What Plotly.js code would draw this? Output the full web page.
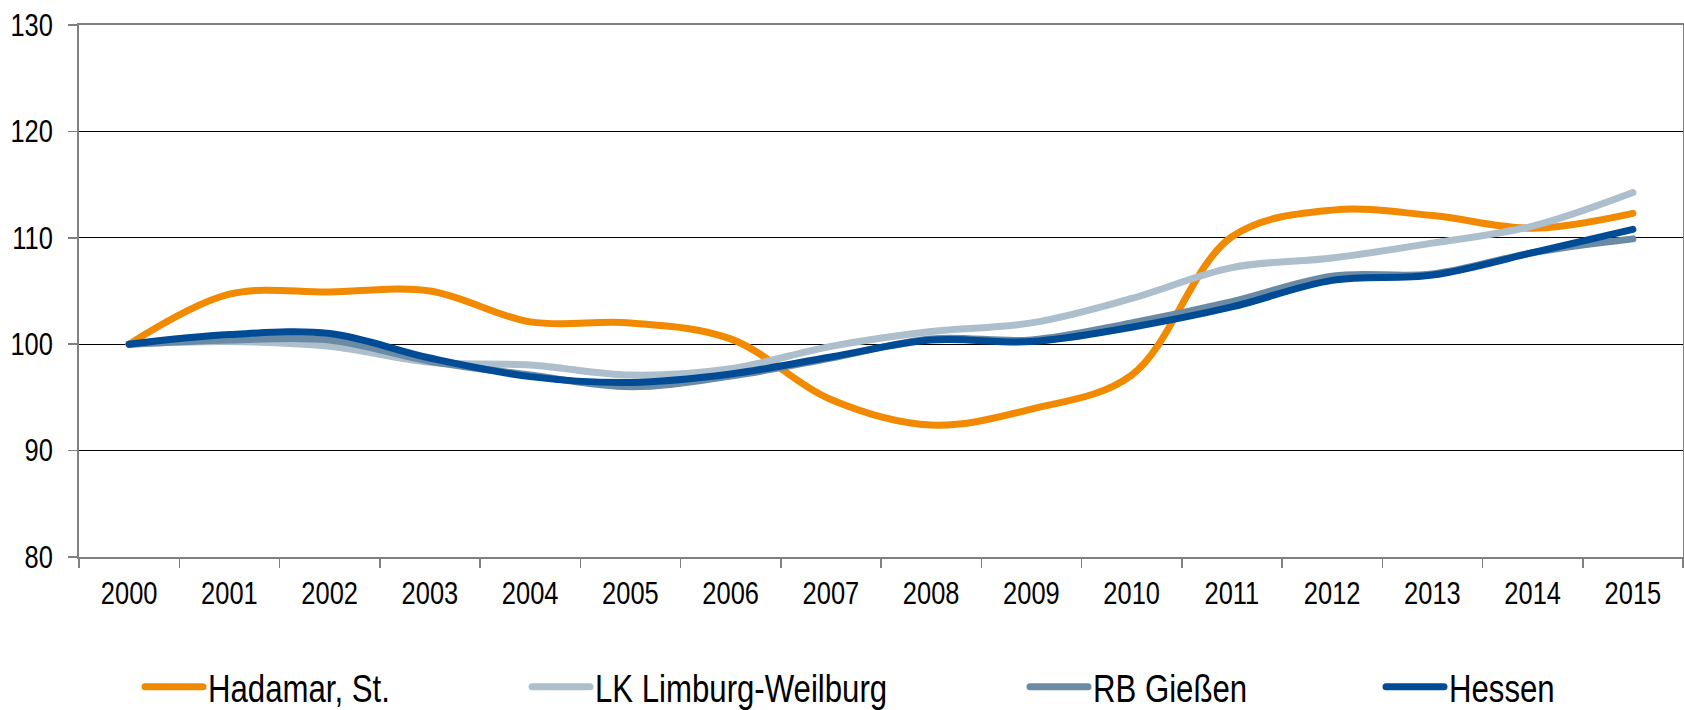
<!DOCTYPE html>
<html>
<head>
<meta charset="utf-8">
<script src="https://cdn.plot.ly/plotly-3.0.1.min.js"></script>
<style>
html,body{margin:0;padding:0;background:#fff;}
#chart{width:1684px;height:710px;}
#chart .scatterlayer path.js-line, #chart .legendlines path { stroke-linecap: round; stroke-linejoin: round; }
</style>
</head>
<body>
<div id="chart"></div>
<script>
var years = ["2000","2001","2002","2003","2004","2005","2006","2007","2008","2009","2010","2011","2012","2013","2014","2015"];
var hadamar = [100, 104.7, 104.9, 105.0, 102.1, 102.0, 100.5, 94.8, 92.4, 93.9, 97.1, 110.1, 112.6, 112.1, 110.9, 112.3];
var limburg = [100, 100.25, 99.8, 98.3, 98.05, 97.1, 97.7, 99.8, 101.2, 102.0, 104.3, 107.2, 108.1, 109.5, 111.1, 114.25];
var giessen = [100, 100.4, 100.4, 98.4, 97.1, 96.0, 97.0, 98.7, 100.5, 100.4, 102.0, 104.0, 106.4, 106.6, 108.6, 109.9];
var hessen = [100, 100.9, 101.0, 98.7, 96.95, 96.4, 97.2, 98.8, 100.4, 100.25, 101.6, 103.5, 106.0, 106.5, 108.6, 110.8];
var names = ["Hadamar, St.", "LK Limburg-Weilburg", "RB Gießen", "Hessen"];
var yTicks = [80, 90, 100, 110, 120, 130];

var FONT = "'Liberation Sans', Arial, sans-serif";
var colors = ["#F18A00", "#ADBECC", "#6B8AA3", "#004B96"];
var series = [hadamar, limburg, giessen, hessen];
var legendIds = ["legend", "legend2", "legend3", "legend4"];

var traces = series.map(function (s, i) {
  return {
    x: years, y: s, name: names[i], type: "scatter", mode: "lines",
    line: {color: colors[i], width: 7, shape: "spline", smoothing: 1},
    legend: legendIds[i], hoverinfo: "skip"
  };
});

function leg(px) {
  return {
    xref: "container", yref: "container", x: px / 1684, y: 23 / 710,
    xanchor: "left", yanchor: "middle", orientation: "h",
    font: {family: FONT, size: 38, color: "#000"},
    itemwidth: 58, bgcolor: "rgba(0,0,0,0)", borderwidth: 0
  };
}

var layout = {
  width: 1684, height: 710,
  margin: {l: 79, r: 1, t: 25, b: 153, pad: 0},
  paper_bgcolor: "#fff", plot_bgcolor: "#fff",
  showlegend: true,
  legend: leg(140), legend2: leg(527), legend3: leg(1025), legend4: leg(1381),
  xaxis: {
    type: "category", range: [-0.5, 15.5], tickson: "boundaries",
    ticks: "outside", ticklen: 9, tickcolor: "#808080", tickwidth: 1.5,
    showline: true, linecolor: "#808080", linewidth: 2, mirror: true,
    showgrid: false, zeroline: false, ticklabelstandoff: 8,
    tickfont: {family: FONT, size: 31, color: "#000"}
  },
  yaxis: {
    range: [80, 130], tickvals: yTicks, ticktext: yTicks.map(String),
    ticks: "outside", ticklen: 9, tickcolor: "#808080", tickwidth: 1.5,
    showline: true, linecolor: "#808080", linewidth: 2, mirror: true,
    showgrid: true, gridcolor: "#000", gridwidth: 1, zeroline: false,
    ticklabelstandoff: 9,
    tickfont: {family: FONT, size: 31, color: "#000"}
  }
};

Plotly.newPlot("chart", traces, layout, {displayModeBar: false, staticPlot: true}).then(function () {
  // reference uses a narrow (Arial Narrow-like) face: condense glyphs horizontally
  document.querySelectorAll("#chart svg text").forEach(function (t) {
    var L = t.getComputedTextLength();
    if (L > 0) {
      t.setAttribute("textLength", (L * 0.82).toFixed(2));
      t.setAttribute("lengthAdjust", "spacingAndGlyphs");
    }
  });
});
</script>
</body>
</html>
